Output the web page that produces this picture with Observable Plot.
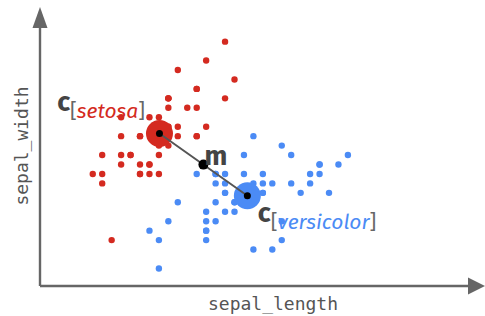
<!DOCTYPE html>
<html>
<head>
<meta charset="utf-8">
<script src="https://cdn.jsdelivr.net/npm/d3@7"></script>
<script src="https://cdn.jsdelivr.net/npm/@observablehq/plot@0.6"></script>
<style>
  html, body { margin: 0; padding: 0; background: #fff; }
  #chart svg { display: block; }
</style>
</head>
<body>
<div id="chart"></div>
<script>
// Iris: setosa and versicolor, sepal measurements
const setosaLength = [5.1,4.9,4.7,4.6,5.0,5.4,4.6,5.0,4.4,4.9,5.4,4.8,4.8,4.3,5.8,5.7,5.4,5.1,5.7,5.1,5.4,5.1,4.6,5.1,4.8,5.0,5.0,5.2,5.2,4.7,4.8,5.4,5.2,5.5,4.9,5.0,5.5,4.9,4.4,5.1,5.0,4.5,4.4,5.0,5.1,4.8,5.1,4.6,5.3,5.0];
const setosaWidth  = [3.5,3.0,3.2,3.1,3.6,3.9,3.4,3.4,2.9,3.1,3.7,3.4,3.0,3.0,4.0,4.4,3.9,3.5,3.8,3.8,3.4,3.7,3.6,3.3,3.4,3.0,3.4,3.5,3.4,3.2,3.1,3.4,4.1,4.2,3.1,3.2,3.5,3.6,3.0,3.4,3.5,2.3,3.2,3.5,3.8,3.0,3.8,3.2,3.7,3.3];
const versicolorLength = [7.0,6.4,6.9,5.5,6.5,5.7,6.3,4.9,6.6,5.2,5.0,5.9,6.0,6.1,5.6,6.7,5.6,5.8,6.2,5.6,5.9,6.1,6.3,6.1,6.4,6.6,6.8,6.7,6.0,5.7,5.5,5.5,5.8,6.0,5.4,6.0,6.7,6.3,5.6,5.5,5.5,6.1,5.8,5.0,5.6,5.7,5.7,6.2,5.1,5.7];
const versicolorWidth  = [3.2,3.2,3.1,2.3,2.8,2.8,3.3,2.4,2.9,2.7,2.0,3.0,2.2,2.9,2.9,3.1,3.0,2.7,2.2,2.5,3.2,2.8,2.5,2.8,2.9,3.0,2.8,3.0,2.9,2.6,2.4,2.4,2.7,2.7,3.0,3.4,3.1,2.3,3.0,2.5,2.6,3.0,2.6,2.3,2.7,3.0,2.9,2.9,2.5,2.8];
const speciesNames = ["setosa", "versicolor"];
const speciesColors = ["#d42a20", "#4b8bf5"];
const axisLabels = ["sepal_length", "sepal_width"];
const xDomain = [3.747, 8.456];
const yDomain = [1.809, 4.751];

const setosa = setosaLength.map((v, i) => ({sepal_length: v, sepal_width: setosaWidth[i]}));
const versicolor = versicolorLength.map((v, i) => ({sepal_length: v, sepal_width: versicolorWidth[i]}));
const centroids = [setosa, versicolor].map((rows, i) => ({
  species: speciesNames[i],
  color: speciesColors[i],
  sepal_length: d3.mean(rows, d => d.sepal_length),
  sepal_width: d3.mean(rows, d => d.sepal_width)
}));
const mid = [{
  sepal_length: (centroids[0].sepal_length + centroids[1].sepal_length) / 2,
  sepal_width: (centroids[0].sepal_width + centroids[1].sepal_width) / 2
}];

const axisColor = "#666";
const labelFont = "'Fira Sans', 'Open Sans', sans-serif";

function axesMark(index, scales, values, dimensions) {
  const {width, height, marginLeft, marginTop, marginBottom} = dimensions;
  const x0 = marginLeft, y0 = height - marginBottom;
  const g = d3.create("svg:g");
  const yTip = marginTop - 1, xTip = width;
  g.append("path").attr("d", `M${x0},${y0}V${yTip + 20}`).attr("stroke", axisColor).attr("stroke-width", 2.4).attr("fill", "none");
  g.append("path").attr("d", `M${x0},${y0}H${xTip - 16}`).attr("stroke", axisColor).attr("stroke-width", 2.4).attr("fill", "none");
  g.append("path").attr("d", `M${x0},${yTip}L${x0 - 7.5},${yTip + 21}L${x0 + 7.5},${yTip + 21}Z`).attr("fill", axisColor);
  g.append("path").attr("d", `M${xTip},${y0}L${xTip - 17},${y0 - 8.5}L${xTip - 17},${y0 + 8.5}Z`).attr("fill", axisColor);
  g.append("text").attr("x", 273).attr("y", height - 6)
    .attr("text-anchor", "middle").attr("font-family", "'DejaVu Sans Mono', monospace").attr("font-size", 18).attr("fill", "#555")
    .text(axisLabels[0]);
  g.append("text").attr("transform", `translate(28,${(marginTop + y0) / 2 - 1}) rotate(-90)`)
    .attr("text-anchor", "middle").attr("font-family", "'DejaVu Sans Mono', monospace").attr("font-size", 18).attr("fill", "#555")
    .text(axisLabels[1]);
  return g.node();
}

function labelsMark(index, scales) {
  const g = d3.create("svg:g").attr("font-family", labelFont);
  const place = [
    {anchor: "end", dx: -14, dy: -22},
    {anchor: "start", dx: 11, dy: 27}
  ];
  centroids.forEach((c, i) => {
    const px = scales.x(c.sepal_length), py = scales.y(c.sepal_width);
    const t = g.append("text").attr("x", px + place[i].dx).attr("y", py + place[i].dy).attr("text-anchor", place[i].anchor);
    t.append("tspan").attr("font-weight", "bold").attr("font-size", 27).attr("fill", "#444").text("c");
    t.append("tspan").attr("dy", 7).attr("font-size", 21).attr("fill", "#666").text("[");
    t.append("tspan").attr("font-size", 21).attr("font-style", "italic").attr("fill", c.color).text(c.species);
    t.append("tspan").attr("font-size", 21).attr("fill", "#666").text("]");
  });
  const mx = scales.x(mid[0].sepal_length), my = scales.y(mid[0].sepal_width);
  g.append("text").attr("x", mx + 13).attr("y", my + 1).attr("font-weight", "bold").attr("font-size", 27).attr("fill", "#444").text("m");
  return g.node();
}

const chart = Plot.plot({
  width: 485,
  height: 316,
  marginLeft: 40,
  marginRight: 0,
  marginTop: 8,
  marginBottom: 30,
  x: {domain: xDomain, axis: null},
  y: {domain: yDomain, axis: null},
  marks: [
    axesMark,
    Plot.dot(setosa, {x: "sepal_length", y: "sepal_width", r: 3.2, fill: speciesColors[0]}),
    Plot.dot(versicolor, {x: "sepal_length", y: "sepal_width", r: 3.2, fill: speciesColors[1]}),
    Plot.dot(centroids, {x: "sepal_length", y: "sepal_width", r: 13.5, fill: "color"}),
    Plot.line(centroids, {x: "sepal_length", y: "sepal_width", stroke: "#555", strokeWidth: 2}),
    Plot.dot(centroids, {x: "sepal_length", y: "sepal_width", r: 3.5, fill: "black"}),
    Plot.dot(mid, {x: "sepal_length", y: "sepal_width", r: 5, fill: "black"}),
    labelsMark
  ]
});
document.getElementById("chart").append(chart);
</script>
</body>
</html>
